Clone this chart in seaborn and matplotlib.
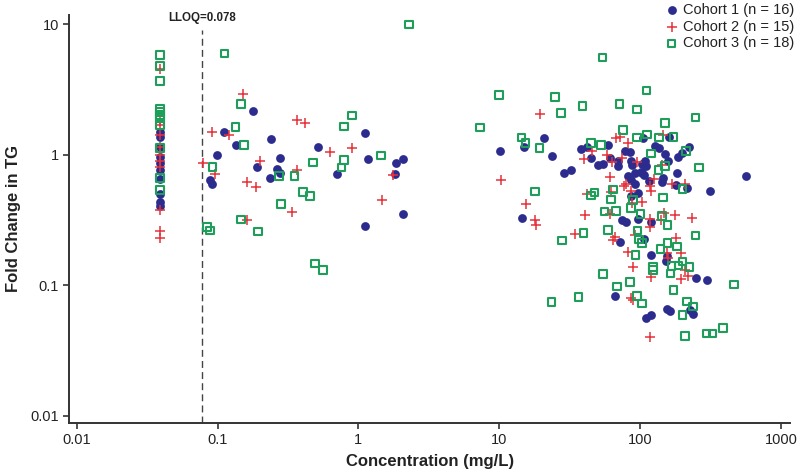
import numpy as np
import pandas as pd
import matplotlib
matplotlib.use("Agg")
import matplotlib.pyplot as plt
import seaborn as sns

sns.set_style("ticks")
plt.rcParams['font.family'] = ['Liberation Sans', 'DejaVu Sans']

# ---------------- data ----------------
lloq = 0.078
blq_conc = 0.039  # values below LLOQ plotted at LLOQ/2

c1_conc = [blq_conc] * 10 + [
    0.179, 0.112, 0.135, 0.239, 0.0986, 0.277, 0.191, 0.265, 0.0884, 0.0908,
    0.237, 0.518, 1.11, 0.277, 0.70, 1.17, 1.84, 2.06, 1.82, 2.06, 1.11,
    10.1, 15.0, 20.7, 23.9, 37.8, 42.1, 59.3, 44.7, 61.7, 78.7, 84.5, 105,
    50.3, 54.9, 69.8, 70.3, 86.9, 87.7, 103, 28.9, 32.2, 82.2, 91.7, 104,
    85.9, 92.7, 96.8, 86.9, 14.4, 74.5, 96.8,
    160, 127, 136, 150, 223, 200, 186, 158, 108, 110, 102, 106, 146, 182,
    115, 143, 179, 217, 312, 562,
    79.1, 120, 72.1, 107, 119, 156, 153, 248, 301, 66.1, 110, 119, 156, 162,
    228, 237]
c1_fold = [1.50, 1.37, 1.15, 0.96, 0.865, 0.764, 0.652, 0.50, 0.43, 0.40] + [
    2.16, 1.48, 1.19, 1.32, 0.99, 0.94, 0.797, 0.775, 0.639, 0.597,
    0.656, 1.15, 1.46, 0.721, 0.713, 0.923, 0.86, 0.923, 0.713, 0.351, 0.285,
    1.07, 1.15, 1.35, 0.982, 1.10, 1.14, 1.18, 0.94, 0.949, 1.07, 1.04, 1.33,
    0.834, 0.853, 0.895, 0.824, 0.895, 0.834, 0.845, 0.721, 0.764, 0.687, 0.721, 0.721,
    0.643, 0.60, 0.512, 0.478, 0.325, 0.316, 0.319,
    1.37, 1.17, 1.12, 1.01, 1.14, 1.02, 0.965, 0.90, 0.895, 0.82, 0.735, 0.693, 0.667, 0.716,
    0.622, 0.611, 0.586, 0.555, 0.527, 0.687,
    0.306, 0.306, 0.215, 0.225, 0.171, 0.166, 0.152, 0.114, 0.11, 0.0825, 0.0556, 0.0587, 0.0655, 0.0632,
    0.0645, 0.060]

c2_conc = [blq_conc] * 11 + [
    0.152, 0.0912, 0.121, 0.200, 0.0792, 0.0953, 0.161, 0.189, 0.163,
    0.364, 0.415, 0.628, 0.904, 0.364, 1.77, 1.46, 0.336,
    19.5, 10.3, 67.2, 72.6, 82.2, 45.6, 58.0, 39.7, 63.0, 74.5, 95.9, 60.7,
    77.5, 79.1, 86.9, 41.7, 62.7, 103, 88.3, 15.5, 40.7, 61.2, 17.9, 18.2,
    146, 143, 125, 117, 119, 170, 208, 147, 176, 232,
    117, 117, 142, 34.8, 66.1, 64.7, 91.7, 179, 82.2, 156, 158, 194, 89.2,
    119, 208, 220, 194, 86.9, 89.2, 117]
c2_fold = [4.50, 1.84, 1.69, 1.42, 1.15, 0.995, 0.895, 0.81, 0.378, 0.258, 0.229] + [
    2.91, 1.48, 1.42, 0.895, 0.86, 0.713, 0.615, 0.563, 0.314,
    1.84, 1.76, 1.04, 1.12, 0.764, 0.70, 0.45, 0.36,
    2.04, 0.635, 1.33, 1.36, 1.23, 1.07, 1.0, 0.917, 0.88, 0.949, 0.884, 0.679,
    0.577, 0.597, 0.527, 0.503, 0.516, 0.435, 0.422, 0.418, 0.346, 0.351, 0.316, 0.29,
    1.42, 0.834, 0.648, 0.571, 0.527, 0.60, 0.60, 0.357, 0.346, 0.325,
    0.319, 0.28, 0.316, 0.245, 0.235, 0.223, 0.244, 0.23, 0.178, 0.175, 0.162, 0.175, 0.138,
    0.116, 0.131, 0.118, 0.111, 0.080, 0.0765, 0.0399]

c3_conc = [blq_conc] * 11 + [
    0.112, 0.147, 0.134, 0.154, 0.0923, 0.273, 0.283, 0.147, 0.0838, 0.0884, 0.193,
    0.904, 0.789, 1.45, 0.789, 0.76, 0.478, 0.352, 0.404, 0.455, 0.491, 0.560, 2.28,
    54.1, 9.93, 24.9, 27.5, 39.0, 71.4, 95.3, 7.28, 14.4, 15.4, 19.3, 75.4,
    95.3, 44.9, 52.9, 17.9, 47.5, 44.7, 64.0, 62.3, 88.8, 85.9, 55.9, 67.6, 101,
    111, 151, 247, 112, 137, 173, 120, 213, 150, 135, 261, 200, 146, 143,
    39.8, 27.9, 59.3, 95.9, 98.4, 103, 157, 247, 157, 183, 140, 92.7, 200, 225,
    124, 124, 167, 187, 165, 54.4, 84.5, 68.7, 173, 464, 94.8, 103, 36.5, 23.5,
    216, 238, 200, 388, 297, 326, 208]
c3_fold = [5.79, 4.77, 3.68, 2.24, 2.13, 2.01, 1.91, 1.69, 1.12, 0.664, 0.537] + [
    5.96, 2.43, 1.62, 1.19, 0.805, 0.687, 0.418, 0.319, 0.278, 0.261, 0.258,
    1.99, 1.64, 0.985, 0.911, 0.797, 0.87, 0.687, 0.516, 0.48, 0.146, 0.131, 9.9,
    5.56, 2.85, 2.76, 2.08, 2.35, 2.44, 2.22, 1.61, 1.35, 1.22, 1.12, 1.55,
    1.35, 1.22, 1.18, 0.521, 0.512, 0.486, 0.54, 0.454, 0.45, 0.389, 0.367, 0.371, 0.351,
    3.09, 1.75, 1.92, 1.42, 1.35, 1.37, 1.02, 1.07, 0.815, 0.764, 0.797, 0.546, 0.47, 0.338,
    0.25, 0.22, 0.264, 0.261, 0.223, 0.21, 0.29, 0.239, 0.21, 0.198, 0.188, 0.17, 0.152, 0.138,
    0.138, 0.13, 0.14, 0.141, 0.123, 0.122, 0.106, 0.0972, 0.0912, 0.101, 0.0828, 0.072, 0.0812, 0.0743,
    0.075, 0.0684, 0.0587, 0.0467, 0.0425, 0.0425, 0.0408]

labels = ["Cohort 1 (n = 16)", "Cohort 2 (n = 15)", "Cohort 3 (n = 18)"]
x_ticks = [0.01, 0.1, 1, 10, 100, 1000]
x_ticklabels = ["0.01", "0.1", "1", "10", "100", "1000"]
y_ticks = [0.01, 0.1, 1, 10]
y_ticklabels = ["0.01", "0.1", "1", "10"]

# ---------------- plotting ----------------
blue = "#2B2C8E"
red = "#E5323B"
green = "#1F9E5B"
axis_col = "#333333"

df1 = pd.DataFrame({"conc": c1_conc, "fold": c1_fold})
df2 = pd.DataFrame({"conc": c2_conc, "fold": c2_fold})
df3 = pd.DataFrame({"conc": c3_conc, "fold": c3_fold})

fig = plt.figure(figsize=(7.97, 4.74), dpi=100)
ax = fig.add_axes([0.087, 0.108, 0.904, 0.860])

sns.scatterplot(data=df1, x="conc", y="fold", ax=ax, marker="o", s=40,
                color=blue, edgecolor=blue, linewidth=0, label=labels[0], zorder=3)
sns.scatterplot(data=df2, x="conc", y="fold", ax=ax, marker="+", s=60,
                color=red, linewidth=1.1, label=labels[1], zorder=4)
sns.scatterplot(data=df3, x="conc", y="fold", ax=ax, marker="s", s=30,
                color=green, facecolor="none", edgecolor=green, linewidth=1.5,
                label=labels[2], zorder=5)

ax.set_xscale("log")
ax.set_yscale("log")
ax.set_xlim(0.00886, 1158)
ax.set_ylim(0.0088, 11.7)

ax.xaxis.set_major_locator(matplotlib.ticker.FixedLocator(x_ticks))
ax.xaxis.set_major_formatter(matplotlib.ticker.FixedFormatter(x_ticklabels))
ax.yaxis.set_major_locator(matplotlib.ticker.FixedLocator(y_ticks))
ax.yaxis.set_major_formatter(matplotlib.ticker.FixedFormatter(y_ticklabels))
ax.xaxis.set_minor_locator(matplotlib.ticker.NullLocator())
ax.yaxis.set_minor_locator(matplotlib.ticker.NullLocator())

for side in ["top", "right"]:
    ax.spines[side].set_visible(False)
for side in ["left", "bottom"]:
    ax.spines[side].set_color(axis_col)
    ax.spines[side].set_linewidth(1.4)
ax.tick_params(axis="both", which="major", direction="out", length=4.5,
               width=1.2, color=axis_col, labelsize=10.5, labelcolor="#222222", pad=3)

ax.set_xlabel("Concentration (mg/L)", fontsize=12, fontweight="bold",
              color="#222222", labelpad=5)
ax.set_ylabel("Fold Change in TG", fontsize=12, fontweight="bold",
              color="#222222", labelpad=7)

# LLOQ reference line
ax.plot([lloq, lloq], [0.0088, 9.0], linestyle=(0, (5, 3)), color="#444444",
        linewidth=1.0, zorder=2)
ax.text(lloq, 11.2, "LLOQ=0.078", ha="center", va="center", fontsize=8.3,
        fontweight="bold", color="#222222", clip_on=False)

leg = ax.legend(loc="upper right", bbox_to_anchor=(1.006, 1.009),
                bbox_transform=fig.transFigure, frameon=False, fontsize=10.5,
                handletextpad=0.2, labelspacing=0.18, borderaxespad=0.1,
                handlelength=1.2, markerscale=1.0)
for t in leg.get_texts():
    t.set_color("#222222")

fig.savefig("out.png", dpi=100)
